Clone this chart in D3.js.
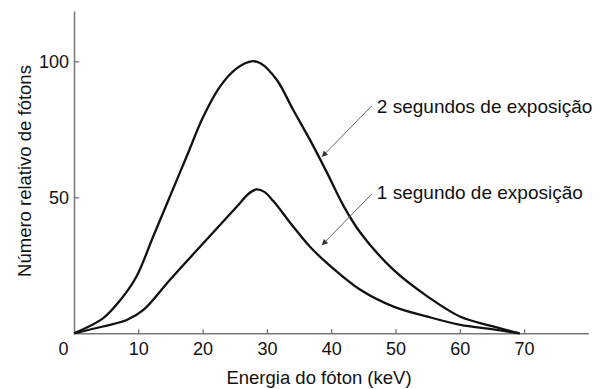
<!DOCTYPE html>
<html>
<head>
<meta charset="utf-8">
<script src="https://cdn.jsdelivr.net/npm/d3@7"></script>
<style>
  body { margin: 0; background: #fff; }
  svg { display: block; font-family: "Liberation Sans", Arial, sans-serif; }
</style>
</head>
<body>
<div id="plot"></div>
<script>
// curve: photon energy (keV) vs relative number of photons
var energy2s = [0, 4.5, 7.2, 9.7, 12.3, 14.9, 17.5, 20.1, 22.7, 25.3, 27.6, 29, 31.5, 34.1, 36.7, 39.4, 42, 44.6, 49.7, 55, 60.1, 64.7, 69.3];
var count2s  = [0, 5.5, 12.2, 20.8, 35.5, 50.2, 64.9, 79.6, 90.7, 97.4, 100, 99.3, 93.3, 82.1, 71.1, 58.8, 46.5, 36.8, 23.3, 13.5, 6.1, 2.8, 0];

var energy1s = [0, 4.5, 8.2, 10.8, 14.9, 20.1, 25.3, 27.2, 28.4, 29.6, 31, 34.1, 36.7, 39.4, 44.6, 49.7, 55, 60.1, 64.7, 69.3];
var count1s  = [0, 2.5, 4.9, 8.6, 19.6, 33.1, 46.5, 51.4, 52.9, 52.0, 48.6, 39.2, 31.8, 25.7, 15.9, 9.8, 6.1, 3.1, 1.6, 0];

var xTicks = [0, 10, 20, 30, 40, 50, 60, 70];
var yTicks = [50, 100];

var xLabel = "Energia do fóton (keV)";
var yLabel = "Número relativo de fótons";

// annotation: label, text anchor point, arrow start and end (data units)
var labels = ["2 segundos de exposição", "1 segundo de exposição"];
var labelAt = [[47.1, 83.4], [47.1, 51.8]];
var arrowFrom = [[46.3, 83.6], [46.3, 51.2]];
var arrowTo = [[38.6, 65.0], [38.6, 32.5]];

var W = 601, H = 389;

var x = d3.scaleLinear().domain([0, 80]).range([74, 588.4]);
var y = d3.scaleLinear().domain([0, 118.5]).range([333.3, 11]);

var svg = d3.select("#plot").append("svg")
  .attr("width", W)
  .attr("height", H);

svg.append("defs").append("marker")
  .attr("id", "head")
  .attr("viewBox", "0 0 10 10")
  .attr("refX", 9)
  .attr("refY", 5)
  .attr("markerWidth", 7)
  .attr("markerHeight", 6)
  .attr("markerUnits", "userSpaceOnUse")
  .attr("orient", "auto")
  .append("path")
  .attr("d", "M0,0 L10,5 L0,10 Z")
  .attr("fill", "#333");

// x axis, ticks pointing up
var xAxis = svg.append("g")
  .attr("transform", "translate(0," + y(0) + ")")
  .call(d3.axisBottom(x).tickValues(xTicks).tickSize(-4).tickPadding(9).tickSizeOuter(0));

xAxis.selectAll("text")
  .attr("x", function(d) { return d === 0 ? -11 : 0; });
xAxis.selectAll(".tick").filter(function(d) { return d === 0; }).select("line").remove();

// y axis, ticks pointing right
var yAxis = svg.append("g")
  .attr("transform", "translate(" + x(0) + ",0)")
  .call(d3.axisLeft(y).tickValues(yTicks).tickSize(-5).tickPadding(5).tickSizeOuter(0));

[xAxis, yAxis].forEach(function(g) {
  g.select(".domain").attr("stroke", "#777").attr("stroke-width", 1.5);
  g.selectAll(".tick line").attr("stroke", "#666").attr("stroke-width", 1.2);
  g.selectAll("text")
    .attr("font-family", "Liberation Sans, Arial, sans-serif")
    .attr("font-size", 18)
    .attr("fill", "#111");
});

svg.append("text")
  .attr("x", 319)
  .attr("y", 384)
  .attr("text-anchor", "middle")
  .style("font-size", "18.5px")
  .style("fill", "#111")
  .text(xLabel);

svg.append("text")
  .attr("transform", "translate(31,171) rotate(-90)")
  .attr("text-anchor", "middle")
  .style("font-size", "18.5px")
  .style("fill", "#111")
  .text(yLabel);

var line = d3.line()
  .x(function(d) { return x(d[0]); })
  .y(function(d) { return y(d[1]); })
  .curve(d3.curveCatmullRom.alpha(0.5));

var series = [d3.zip(energy2s, count2s), d3.zip(energy1s, count1s)];

svg.selectAll(".curve")
  .data(series)
  .enter()
  .append("path")
  .attr("class", "curve")
  .attr("d", line)
  .attr("fill", "none")
  .attr("stroke", "#111")
  .attr("stroke-width", 2.3);

svg.selectAll(".arrow")
  .data(labels)
  .enter()
  .append("line")
  .attr("class", "arrow")
  .attr("x1", function(d, i) { return x(arrowFrom[i][0]); })
  .attr("y1", function(d, i) { return y(arrowFrom[i][1]); })
  .attr("x2", function(d, i) { return x(arrowTo[i][0]); })
  .attr("y2", function(d, i) { return y(arrowTo[i][1]); })
  .attr("stroke", "#666")
  .attr("stroke-width", 1)
  .attr("marker-end", "url(#head)");

svg.selectAll(".note")
  .data(labels)
  .enter()
  .append("text")
  .attr("class", "note")
  .attr("x", function(d, i) { return x(labelAt[i][0]); })
  .attr("y", function(d, i) { return y(labelAt[i][1]); })
  .attr("dy", "0.35em")
  .style("font-size", "19px")
  .style("fill", "#111")
  .text(function(d) { return d; });
</script>
</body>
</html>
